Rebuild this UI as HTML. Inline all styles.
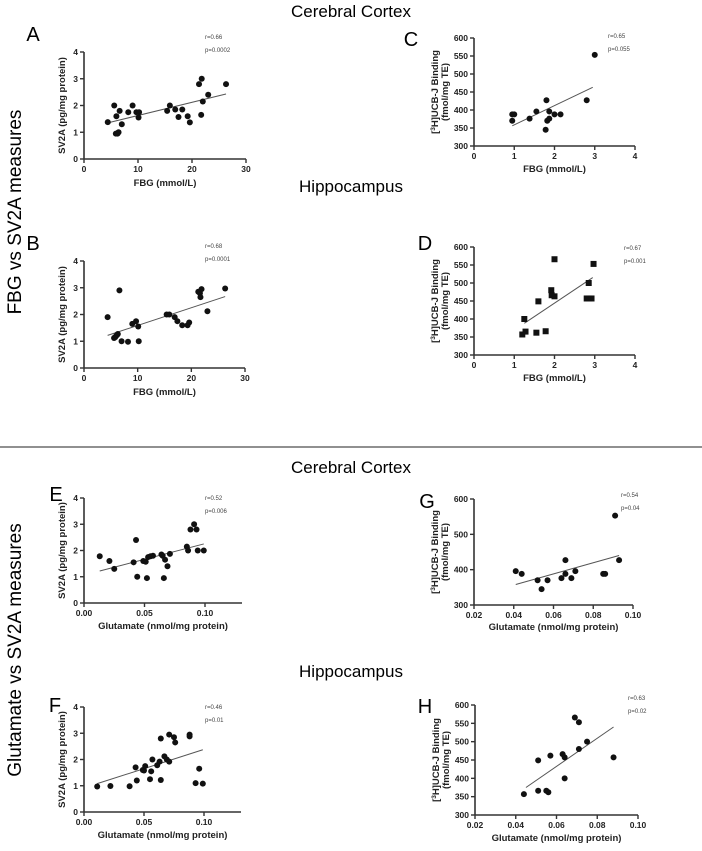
<!DOCTYPE html>
<html><head><meta charset="utf-8"><style>
html,body{margin:0;padding:0;background:#fff;}
svg{display:block;font-family:"Liberation Sans",Arial,sans-serif;}
</style></head><body>
<svg id="fig" width="702" height="851" viewBox="0 0 702 851">
<text x="351" y="17" font-size="17" text-anchor="middle">Cerebral Cortex</text>
<text x="351" y="192" font-size="17" text-anchor="middle">Hippocampus</text>
<text x="351" y="473" font-size="17" text-anchor="middle">Cerebral Cortex</text>
<text x="351" y="677" font-size="17" text-anchor="middle">Hippocampus</text>
<text transform="translate(21,212) rotate(-90)" font-size="19" text-anchor="middle">FBG vs SV2A measures</text>
<text transform="translate(21,650) rotate(-90)" font-size="19" text-anchor="middle">Glutamate vs SV2A measures</text>
<line x1="0" y1="447" x2="702" y2="447" stroke="#222" stroke-width="1"/>
</svg>
<script>
// Panel A
const aX=[4.4,5.6,5.9,6.0,6.2,6.4,6.6,7.0,8.2,9.0,9.7,10.1,10.2,15.4,15.9,16.9,17.5,18.2,19.2,19.6,21.3,21.7,21.8,22.0,23.0,26.3];
const aY=[1.38,2.0,0.95,1.6,0.95,1.0,1.8,1.3,1.75,2.0,1.75,1.55,1.75,1.8,2.0,1.85,1.57,1.85,1.6,1.37,2.8,1.65,3.0,2.15,2.4,2.8];
const aFit=[[4.4,1.35],[26.3,2.43]];
// Panel B
const bX=[4.4,5.6,5.8,6.0,6.2,6.3,6.6,7.0,8.2,9.0,9.7,10.1,10.2,15.4,15.9,16.9,17.4,18.3,19.3,19.6,21.3,21.6,21.7,21.9,23.0,26.3];
const bY=[1.9,1.12,1.15,1.2,1.25,1.27,2.9,1.0,0.98,1.65,1.75,1.55,1.0,2.0,2.0,1.9,1.75,1.6,1.6,1.7,2.85,2.8,2.65,2.95,2.12,2.97];
const bFit=[[4.4,1.22],[26.3,2.67]];
// Panel C
const cX=[0.95,0.95,1.0,1.38,1.55,1.78,1.8,1.82,1.87,1.87,2.0,2.15,2.8,3.0];
const cY=[388,370,388,376,396,345,427,370,396,376,388,388,427,553];
const cFit=[[0.95,356],[2.95,463]];
// Panel D
const dX=[1.2,1.25,1.28,1.55,1.6,1.78,1.92,1.93,2.0,2.0,2.8,2.85,2.85,2.92,2.97];
const dY=[357,400,365,362,449,366,480,466,463,566,457,457,500,457,553];
const dFit=[[1.25,388],[2.95,515]];
// Panel E
const eX=[0.013,0.021,0.025,0.041,0.043,0.044,0.049,0.051,0.052,0.053,0.055,0.057,0.064,0.065,0.066,0.067,0.069,0.071,0.085,0.086,0.088,0.091,0.093,0.094,0.099];
const eY=[1.78,1.6,1.3,1.55,2.4,1.0,1.6,1.57,0.95,1.75,1.78,1.8,1.85,1.8,0.95,1.65,1.4,1.87,2.15,2.0,2.8,3.0,2.8,2.0,2.0];
const eFit=[[0.013,1.22],[0.099,2.25]];
// Panel F
const fX=[0.011,0.022,0.038,0.043,0.044,0.049,0.050,0.051,0.055,0.056,0.057,0.061,0.063,0.064,0.064,0.067,0.069,0.071,0.071,0.075,0.076,0.088,0.088,0.093,0.096,0.099];
const fY=[0.97,0.99,0.98,1.7,1.2,1.6,1.58,1.75,1.25,1.55,2.0,1.78,1.92,2.8,1.22,2.12,2.0,2.95,1.92,2.85,2.65,2.95,2.88,1.1,1.65,1.08];
const fFit=[[0.011,1.08],[0.099,2.37]];
// Panel G
const gX=[0.041,0.044,0.052,0.054,0.057,0.064,0.066,0.066,0.069,0.071,0.085,0.086,0.091,0.093];
const gY=[396,388,370,345,370,376,427,388,376,396,388,388,553,427];
const gFit=[[0.041,358],[0.093,440]];
// Panel H
const hX=[0.044,0.051,0.051,0.055,0.056,0.057,0.063,0.064,0.064,0.069,0.071,0.071,0.075,0.088];
const hY=[357,449,366,366,362,462,466,457,400,566,553,480,500,457];
const hFit=[[0.045,375],[0.088,540]];
// Ticks & labels
const sv2aTicks=[0,1,2,3,4];
const fbgTicksA=[0,10,20,30];
const bindTicks50=[300,350,400,450,500,550,600];
const bindTicks100=[300,400,500,600];
const fbgTicksC=[0,1,2,3,4];
const gluTicksE=[0,0.05,0.10];
const gluTicksG=[0.02,0.04,0.06,0.08,0.10];
const statsR=["r=0.66","r=0.68","r=0.65","r=0.67","r=0.52","r=0.46","r=0.54","r=0.63"];
const statsP=["p=0.0002","p=0.0001","p=0.055","p=0.001","p=0.006","p=0.01","p=0.04","p=0.02"];

const NS="http://www.w3.org/2000/svg";
const svg=document.getElementById('fig');
function mk(tag,attrs,parent){const e=document.createElementNS(NS,tag);for(const k in attrs)e.setAttribute(k,attrs[k]);(parent||svg).appendChild(e);return e;}

const panels=[
 {id:'a',L:'A',lx:33,ly:41,X:aX,Y:aY,fit:aFit,ax:84,x0:0,x1:30,xp1:246,xEnd:246,yb:159,yt:52,y0:0,y1:4,xt:fbgTicksA,yt_:sv2aTicks,xf:v=>v,yf:v=>v,xl:"FBG (mmol/L)",xly:186,yl:"SV2A (pg/mg protein)",sx:205,sy:39,sq:false,k:0},
 {id:'b',L:'B',lx:33,ly:250,X:bX,Y:bY,fit:bFit,ax:84,x0:0,x1:30,xp1:245,xEnd:245,yb:368,yt:261,y0:0,y1:4,xt:fbgTicksA,yt_:sv2aTicks,xf:v=>v,yf:v=>v,xl:"FBG (mmol/L)",xly:395,yl:"SV2A (pg/mg protein)",sx:205,sy:248,sq:false,k:1},
 {id:'c',L:'C',lx:411,ly:46,X:cX,Y:cY,fit:cFit,ax:474,x0:0,x1:4,xp1:635,xEnd:635,yb:146,yt:38,y0:300,y1:600,xt:fbgTicksC,yt_:bindTicks50,xf:v=>v,yf:v=>v,xl:"FBG (mmol/L)",xly:172,yl:"bind",sx:608,sy:38,sq:false,k:2},
 {id:'d',L:'D',lx:425,ly:250,X:dX,Y:dY,fit:dFit,ax:474,x0:0,x1:4,xp1:635,xEnd:635,yb:355,yt:247,y0:300,y1:600,xt:fbgTicksC,yt_:bindTicks50,xf:v=>v,yf:v=>v,xl:"FBG (mmol/L)",xly:381,yl:"bind",sx:624,sy:250,sq:true,k:3},
 {id:'e',L:'E',lx:56,ly:501,X:eX,Y:eY,fit:eFit,ax:84,x0:0,x1:0.10,xp1:205,xEnd:242,yb:603,yt:498,y0:0,y1:4,xt:gluTicksE,yt_:sv2aTicks,xf:v=>v.toFixed(2),yf:v=>v,xl:"Glutamate (nmol/mg protein)",xly:629,yl:"SV2A (pg/mg protein)",sx:205,sy:500,sq:false,k:4},
 {id:'f',L:'F',lx:55,ly:712,X:fX,Y:fY,fit:fFit,ax:84,x0:0,x1:0.10,xp1:204,xEnd:241,yb:812,yt:707,y0:0,y1:4,xt:gluTicksE,yt_:sv2aTicks,xf:v=>v.toFixed(2),yf:v=>v,xl:"Glutamate (nmol/mg protein)",xly:838,yl:"SV2A (pg/mg protein)",sx:205,sy:709,sq:false,k:5},
 {id:'g',L:'G',lx:427,ly:508,X:gX,Y:gY,fit:gFit,ax:474,x0:0.02,x1:0.10,xp1:633,xEnd:633,yb:605,yt:499,y0:300,y1:600,xt:gluTicksG,yt_:bindTicks100,xf:v=>v.toFixed(2),yf:v=>v,xl:"Glutamate (nmol/mg protein)",xly:630,yl:"bind",sx:621,sy:497,sq:false,k:6},
 {id:'h',L:'H',lx:425,ly:713,X:hX,Y:hY,fit:hFit,ax:475,x0:0.02,x1:0.10,xp1:638,xEnd:638,yb:815,yt:705,y0:300,y1:600,xt:gluTicksG,yt_:bindTicks50,xf:v=>v.toFixed(2),yf:v=>v,xl:"Glutamate (nmol/mg protein)",xly:841,yl:"bind",sx:628,sy:700,sq:false,k:7}
];

panels.forEach(p=>{
 const g=mk('g',{});
 
 
 const sx=v=>p.ax+(v-p.x0)/(p.x1-p.x0)*(p.xp1-p.ax);
 const sy=v=>p.yb-(v-p.y0)/(p.y1-p.y0)*(p.yb-p.yt);
 const lt=mk('text',{x:p.lx,y:p.ly,'font-size':20,'text-anchor':'middle'},g);lt.textContent=p.L;
 
 
 const xa=mk('line',{x1:p.ax,y1:p.yb,x2:p.xEnd,y2:p.yb,stroke:'#333','stroke-width':1.6},g);
 
 
 const ya=mk('line',{x1:p.ax,y1:p.yb,x2:p.ax,y2:p.yt,stroke:'#333','stroke-width':1.6},g);
 
 
 p.xt.forEach(v=>{const x=sx(v);
  mk('line',{x1:x,y1:p.yb,x2:x,y2:p.yb+4,stroke:'#333','stroke-width':1.4},g);
  const t=mk('text',{x:x,y:p.yb+13,'font-size':8.5,'font-weight':'bold','text-anchor':'middle',fill:'#222'},g);t.textContent=p.xf(v);
  
  });
 p.yt_.forEach(v=>{const y=sy(v);
  mk('line',{x1:p.ax-4,y1:y,x2:p.ax,y2:y,stroke:'#333','stroke-width':1.4},g);
  const t=mk('text',{x:p.ax-6,y:y+3,'font-size':8.5,'font-weight':'bold','text-anchor':'end',fill:'#222'},g);t.textContent=p.yf(v);
  
  });
 const xl=mk('text',{x:(p.ax+p.xEnd)/2,y:p.xly,'font-size':9.5,'font-weight':'bold','text-anchor':'middle',fill:'#222'},g);xl.textContent=p.xl;
 
 
 const cy=(p.yb+p.yt)/2;
 if(p.yl==='bind'){
  const t1=mk('text',{transform:`translate(${p.ax-36},${cy}) rotate(-90)`,'font-size':9.5,'font-weight':'bold','text-anchor':'middle',fill:'#222'},g);
  t1.innerHTML='[<tspan dy="-3" font-size="6.5">3</tspan><tspan dy="3">H]UCB-J Binding</tspan>';
  
  
  const t2=mk('text',{transform:`translate(${p.ax-26},${cy}) rotate(-90)`,'font-size':9.5,'font-weight':'bold','text-anchor':'middle',fill:'#222'},g);
  t2.textContent='(fmol/mg TE)';
  
  
 } else {
  const t=mk('text',{transform:`translate(${p.ax-19},${cy}) rotate(-90)`,'font-size':9.5,'font-weight':'bold','text-anchor':'middle',fill:'#222'},g);
  t.textContent=p.yl;
  
  
 }
 const fl=mk('line',{x1:sx(p.fit[0][0]),y1:sy(p.fit[0][1]),x2:sx(p.fit[1][0]),y2:sy(p.fit[1][1]),stroke:'#555','stroke-width':1},g);
 
 
 p.X.forEach((xv,i)=>{const x=sx(xv),y=sy(p.Y[i]);let m;
  if(p.sq)m=mk('rect',{x:x-3,y:y-3,width:6,height:6,fill:'#111'},g);
  else m=mk('circle',{cx:x,cy:y,r:3,fill:'#111'},g);
  
  });
 const r=mk('text',{x:p.sx,y:p.sy,'font-size':6,fill:'#444'},g);r.textContent=statsR[p.k];
 
 
 const pp=mk('text',{x:p.sx,y:p.sy+13,'font-size':6,fill:'#444'},g);pp.textContent=statsP[p.k];
 
 
});
</script>
</body></html>
